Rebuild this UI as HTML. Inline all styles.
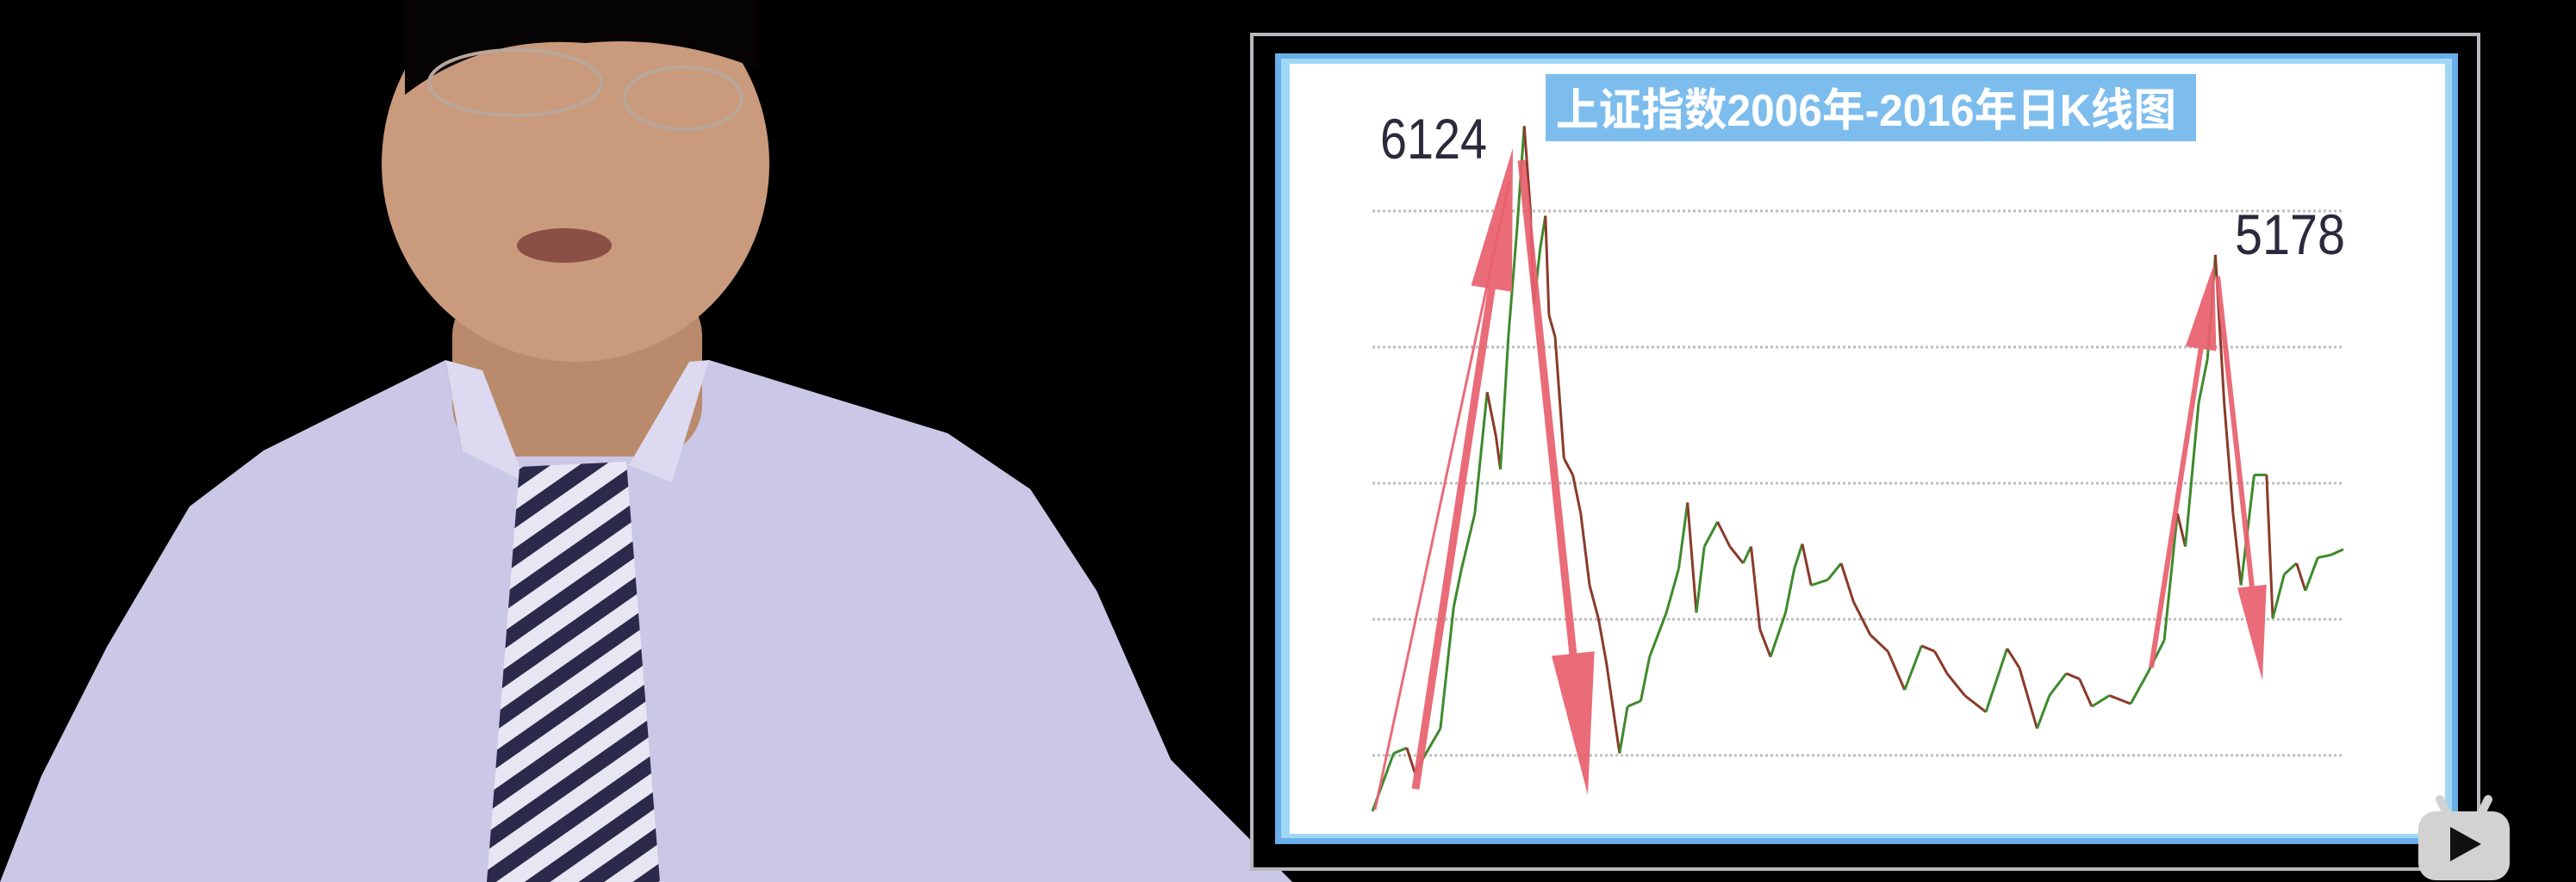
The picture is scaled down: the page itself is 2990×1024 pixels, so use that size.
<!DOCTYPE html>
<html><head><meta charset="utf-8">
<style>
html,body{margin:0;padding:0;background:#000;}
body{width:2990px;height:1024px;overflow:hidden;position:relative;}
svg{position:absolute;left:0;top:0;}
</style></head>
<body>
<svg width="2990" height="1024" viewBox="0 0 2990 1024">
<defs>
<pattern id="tieStripes" width="36" height="36" patternUnits="userSpaceOnUse" patternTransform="rotate(-35)">
<rect width="36" height="36" fill="#e8e6f2"/>
<rect width="36" height="17" fill="#2c2a4a"/>
</pattern>
</defs>
<rect x="0" y="0" width="2990" height="1024" fill="#000"/>
<g>
<polygon points="0,1024 48,901 124,751 220,588 306,523 517,418 536,523 670,523 823,418 1100,503 1196,568 1273,686 1359,882 1500,1024" fill="#cbc7e6"/>
<rect x="525" y="330" width="290" height="200" rx="60" fill="#b98a6c"/>
<ellipse cx="668" cy="190" rx="225" ry="230" fill="#c99a7c"/>
<path d="M470,0 L880,0 L880,80 Q780,40 680,50 Q560,40 470,110 Z" fill="#050303"/>
<ellipse cx="598" cy="96" rx="100" ry="38" fill="none" stroke="#b9a79b" stroke-width="4"/>
<ellipse cx="793" cy="114" rx="68" ry="36" fill="none" stroke="#b9a79b" stroke-width="4"/>
<ellipse cx="655" cy="285" rx="55" ry="20" fill="#8a4f45"/>
<polygon points="517,418 536,523 610,560 560,430" fill="#dcd9f0"/>
<polygon points="823,418 780,560 730,540 800,420" fill="#dcd9f0"/>
<polygon points="603,542 727,536 766,1024 565,1024" fill="url(#tieStripes)"/>
</g>
<rect x="1453" y="40" width="1424" height="969" fill="#000" stroke="#b8b8bc" stroke-width="4"/>
<rect x="1480" y="62" width="1373" height="918" fill="#6aaeea"/>
<rect x="1487" y="68" width="1359" height="905" fill="#9fd7f5"/>
<rect x="1497" y="74" width="1341" height="894" fill="#fff"/>
<g>
<rect x="1794" y="86" width="755" height="78" fill="#7dbdee"/>
<text x="1806" y="146" textLength="720" lengthAdjust="spacingAndGlyphs" font-family="'Liberation Sans','Noto Sans CJK SC',sans-serif" font-size="52" font-weight="bold" fill="#fff">上证指数2006年-2016年日K线图</text>
</g>
<g id="grid"></g>
<g id="series"></g>
<g id="arrows"></g>
<text x="1602" y="184" textLength="124" lengthAdjust="spacingAndGlyphs" font-family="'Liberation Sans',sans-serif" font-size="66" fill="#2a2a3c">6124</text>
<text x="2594" y="295" textLength="128" lengthAdjust="spacingAndGlyphs" font-family="'Liberation Sans',sans-serif" font-size="66" fill="#2a2a3c">5178</text>
<g>
<rect x="2807" y="942" width="106" height="80" rx="20" fill="#d2d2d2"/>
<line x1="2840" y1="944" x2="2832" y2="928" stroke="#d2d2d2" stroke-width="10" stroke-linecap="round"/>
<line x1="2880" y1="944" x2="2888" y2="928" stroke="#d2d2d2" stroke-width="10" stroke-linecap="round"/>
<polygon points="2844,960 2844,1000 2880,980" fill="#111"/>
</g>
</svg>
<script>
const gridValues = [5500, 4500, 3500, 2500, 1500];
const dates = [2006.00,2006.24,2006.39,2006.48,2006.77,2006.92,2007.01,2007.16,2007.30,2007.40,2007.45,2007.54,2007.64,2007.72,2007.79,2007.83,2007.90,2007.96,2008.00,2008.07,2008.17,2008.27,2008.36,2008.46,2008.56,2008.65,2008.80,2008.89,2009.04,2009.14,2009.33,2009.47,2009.57,2009.67,2009.76,2009.91,2010.05,2010.20,2010.29,2010.39,2010.51,2010.68,2010.78,2010.87,2010.97,2011.16,2011.31,2011.45,2011.64,2011.84,2012.03,2012.22,2012.37,2012.51,2012.71,2012.95,2013.19,2013.33,2013.53,2013.67,2013.86,2014.01,2014.15,2014.35,2014.59,2014.78,2014.97,2015.12,2015.21,2015.36,2015.46,2015.55,2015.65,2015.75,2015.84,2015.99,2016.13,2016.20,2016.33,2016.47,2016.57,2016.71,2016.86,2017.00];
const closes = [1089,1515,1555,1373,1697,2588,2872,3277,4169,3844,3601,4574,5384,6124,5506,4817,5222,5465,4736,4574,3682,3561,3277,2750,2507,2183,1515,1859,1900,2224,2548,2872,3358,2548,3034,3216,3034,2912,3034,2426,2224,2548,2872,3054,2750,2791,2912,2629,2386,2264,1981,2305,2264,2102,1940,1819,2285,2143,1697,1940,2102,2062,1859,1940,1879,2102,2345,3277,3034,4088,4412,5178,4088,3277,2750,3561,3561,2507,2831,2912,2710,2953,2973,3014];
const NS='http://www.w3.org/2000/svg';
const X0=1593,X1=2720,D0=2006,D1=2017;
function xScale(d){return X0+(d-D0)/(D1-D0)*(X1-X0);}
function yScale(v){return 877-(v-1500)*0.158;}
const grid=document.getElementById('grid');
gridValues.forEach(v=>{
  const l=document.createElementNS(NS,'line');
  
  
  l.setAttribute('x1',X0);l.setAttribute('x2',X1);
  l.setAttribute('y1',yScale(v));l.setAttribute('y2',yScale(v));
  l.setAttribute('stroke','#bdbdbd');l.setAttribute('stroke-width','3');l.setAttribute('stroke-dasharray','3 3');
  grid.appendChild(l);
});
const series=document.getElementById('series');
for(let i=1;i<closes.length;i++){
  const s=document.createElementNS(NS,'line');
  
  
  s.setAttribute('x1',xScale(dates[i-1]));s.setAttribute('y1',yScale(closes[i-1]));
  s.setAttribute('x2',xScale(dates[i]));s.setAttribute('y2',yScale(closes[i]));
  s.setAttribute('stroke',closes[i]>=closes[i-1]?'#3e8a2c':'#8a3a2a');
  s.setAttribute('stroke-width','3');
  series.appendChild(s);
}
const arrows=document.getElementById('arrows');
function arrow(x1,y1,x2,y2,w,hl,hw){
  const dx=x2-x1,dy=y2-y1,L=Math.hypot(dx,dy),ux=dx/L,uy=dy/L,px=-uy,py=ux;
  const bx=x2-ux*hl,by=y2-uy*hl;
  const pts=[[x1+px*w/2,y1+py*w/2],[bx+px*w/2,by+py*w/2],[bx+px*hw/2,by+py*hw/2],[x2,y2],[bx-px*hw/2,by-py*hw/2],[bx-px*w/2,by-py*w/2],[x1-px*w/2,y1-py*w/2]];
  const p=document.createElementNS(NS,'polygon');
  
  
  p.setAttribute('points',pts.map(q=>q.join(',')).join(' '));
  p.setAttribute('fill','#e8606e');p.setAttribute('opacity','0.92');
  arrows.appendChild(p);
}
arrow(1596,940,1752,210,3,0,0);
arrow(1643,916,1756,172,9,165,48);
arrow(1766,186,1843,923,9,165,50);
arrow(2497,775,2570,306,6,100,36);
arrow(2574,321,2626,790,6,110,34);
</script>
</body></html>
